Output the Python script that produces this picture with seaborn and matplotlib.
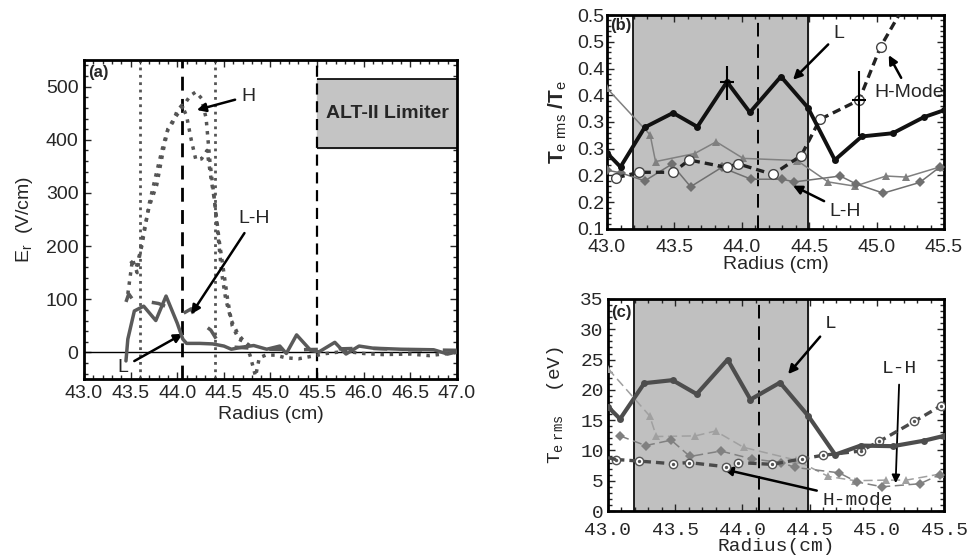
import numpy as np
import matplotlib
matplotlib.use('Agg')
import matplotlib.pyplot as plt
import seaborn as sns

sns.set_style('ticks')
plt.rcParams['font.family'] = ['Liberation Sans', 'DejaVu Sans']
plt.rcParams['mathtext.fontset'] = 'custom'
plt.rcParams['mathtext.rm'] = 'Liberation Sans'
plt.rcParams['mathtext.it'] = 'Liberation Sans'
plt.rcParams['mathtext.tt'] = 'Liberation Mono'

# ---------- panel (a): radial electric field ----------
a_h1_r = [43.47, 43.52, 43.57, 43.62, 43.7, 43.78, 43.85, 43.9, 43.95, 44.0, 44.05, 44.1,
          44.15, 44.2, 44.26, 44.32, 44.36, 44.4, 44.44, 44.48, 44.52, 44.58, 44.65, 44.72, 44.8]
a_h1_er = [110, 175, 150, 210, 275, 315, 380, 420, 432, 455, 465, 445,
           400, 362, 364, 380, 330, 285, 215, 145, 100, 60, 35, 20, 10]
a_h2_r = [43.5, 43.56, 43.62, 43.7, 43.78, 43.85, 43.9, 43.95, 44.05, 44.14, 44.2, 44.26,
          44.31, 44.35, 44.4, 44.45, 44.5, 44.54, 44.59, 44.66, 44.72, 44.78, 44.84, 44.88,
          44.95, 45.05, 45.16, 45.3, 45.48, 45.6, 45.8, 46.0, 46.2, 46.5, 46.7, 46.85, 47.0]
a_h2_er = [172, 160, 200, 280, 340, 390, 420, 435, 460, 483, 490, 478,
           440, 360, 285, 210, 150, 100, 50, 25, 20, -5, -45, -10,
           -5, -5, -10, -12, -6, -2, 2, -2, -4, -3, -6, -3, 0]
a_l_r = [43.45, 43.47, 43.54, 43.64, 43.77, 43.88, 44.0, 44.06, 44.1, 44.24, 44.38, 44.5,
         44.58, 44.7, 44.82, 44.96, 45.1, 45.17, 45.28, 45.43, 45.52, 45.69, 45.81, 45.95,
         46.1, 46.4, 46.75, 46.9, 47.0]
a_l_er = [-16, 25, 78, 87, 60, 106, 55, 25, 17, 17, 16, 12,
          6, 10, 13, 6, 12, -2, 33, 4, 1, 19, -3, 12,
          8, 6, 5, -3, 1]
a_lh_r = [43.45, 43.48, 43.52, 43.6, 43.7, 43.8, 43.9, 44.0, 44.05, 44.15, 44.2, 44.3,
          44.36, 44.42, 44.5, 44.6, 44.8, 45.0, 45.3, 45.6, 46.0, 46.5, 47.0]
a_lh_er = [95, 110, 100, 95, 95, 92, 85, 75, 72, 82, 62, 50,
           42, 25, 15, 10, 8, 6, 5, 6, 8, 5, 4]

# ---------- panel (b): normalised temperature fluctuation ----------
b_l_r = [43.0, 43.1, 43.28, 43.49, 43.67, 43.89, 44.06, 44.29, 44.49, 44.69, 44.89, 45.12, 45.35, 45.5]
b_l_t = [0.242, 0.216, 0.290, 0.317, 0.291, 0.375, 0.318, 0.385, 0.327, 0.229, 0.273, 0.279, 0.309, 0.322]
b_h_r = [43.07, 43.24, 43.49, 43.61, 43.89, 43.97, 44.23, 44.44, 44.58, 44.87, 45.03, 45.2]
b_h_t = [0.196, 0.206, 0.206, 0.229, 0.215, 0.222, 0.202, 0.237, 0.305, 0.341, 0.441, 0.515]
b_tri_r = [43.0, 43.32, 43.36, 43.65, 43.81, 44.01, 44.41, 44.64, 44.84, 45.07, 45.22, 45.47]
b_tri_t = [0.363, 0.276, 0.226, 0.241, 0.263, 0.232, 0.228, 0.188, 0.180, 0.199, 0.197, 0.216]
b_dia_r = [43.0, 43.1, 43.28, 43.48, 43.62, 43.85, 44.07, 44.3, 44.39, 44.73, 44.85, 45.05, 45.32, 45.47]
b_dia_t = [0.210, 0.205, 0.190, 0.221, 0.179, 0.215, 0.193, 0.193, 0.188, 0.199, 0.184, 0.167, 0.187, 0.216]
b_err_r = [43.89, 44.87]
b_err_t = [0.375, 0.341]
b_err_lo = [0.033, 0.068]
b_err_hi = [0.030, 0.055]
b_yticks = [0.1, 0.15, 0.2, 0.25, 0.3, 0.35, 0.4, 0.45, 0.5]
b_ylabels = ['0.1', '0.2', '0.2', '0.3', '0.3', '0.4', '0.4', '0.5', '0.5']

# ---------- panel (c): temperature fluctuation (eV) ----------
c_l_r = [43.0, 43.09, 43.27, 43.48, 43.66, 43.89, 44.06, 44.28, 44.49, 44.69, 44.88, 45.12, 45.35, 45.5]
c_l_t = [17.2, 15.2, 21.1, 21.6, 19.3, 25.0, 18.4, 21.2, 15.7, 9.3, 10.8, 10.7, 11.6, 12.4]
c_h_r = [43.06, 43.23, 43.48, 43.6, 43.88, 43.97, 44.22, 44.44, 44.6, 44.88, 45.02, 45.28, 45.48]
c_h_t = [8.5, 8.25, 7.8, 8.0, 7.3, 8.0, 7.7, 8.6, 9.2, 9.9, 11.5, 14.8, 17.4]
c_tri_r = [43.0, 43.31, 43.36, 43.65, 43.8, 44.01, 44.4, 44.64, 44.84, 45.07, 45.22, 45.47]
c_tri_t = [23.5, 15.7, 12.3, 12.4, 13.2, 10.5, 8.4, 5.7, 5.0, 5.1, 5.1, 6.1]
c_dia_r = [43.09, 43.28, 43.47, 43.61, 43.84, 44.07, 44.29, 44.39, 44.72, 44.85, 45.04, 45.32, 45.47]
c_dia_t = [12.4, 10.8, 11.7, 9.0, 9.9, 8.6, 8.0, 7.2, 6.3, 4.8, 4.0, 4.5, 6.0]


def style_axis(ax, lw=2.0):
    for s in ax.spines.values():
        s.set_linewidth(lw)
        s.set_color('black')
    ax.tick_params(which='both', direction='in', top=True, right=True, width=1)
    ax.tick_params(which='major', length=5)
    ax.tick_params(which='minor', length=3)


fig = plt.figure(figsize=(9.7, 5.6), dpi=100)
ax_a = fig.add_axes([0.0866, 0.3232, 0.3845, 0.5696])
ax_b = fig.add_axes([0.6258, 0.5911, 0.3474, 0.3821])
ax_c = fig.add_axes([0.6268, 0.0875, 0.3464, 0.3786])

arrow = dict(arrowstyle='-|>', color='black', lw=1.8, mutation_scale=13, shrinkA=2, shrinkB=0)

# ----- (a) -----
ax = ax_a
ax.fill_between([45.5, 47.0], 385, 515, color='#c4c4c4', zorder=1)
ax.hlines([385, 515], 45.5, 47.0, color='black', lw=1.2, zorder=2)
ax.text(46.25, 450, 'ALT-II Limiter', ha='center', va='center', fontsize=14, fontweight='bold')
ax.axhline(0, color='black', lw=1, zorder=2)
ax.axvline(43.6, color='#555555', ls=':', lw=2, zorder=2)
ax.axvline(44.4, color='#555555', ls=':', lw=2, zorder=2)
ax.axvline(44.05, color='black', ls=(0, (5, 3)), lw=2, zorder=2)
ax.axvline(45.5, color='black', ls=(0, (5, 3)), lw=1.6, zorder=2)
sns.lineplot(x=a_h1_r, y=a_h1_er, ax=ax, sort=False, estimator=None, color='#555555', lw=2.5, ls=':', zorder=3)
sns.lineplot(x=a_h2_r, y=a_h2_er, ax=ax, sort=False, estimator=None, color='#555555', lw=2.5, ls=':', zorder=3)
sns.lineplot(x=a_lh_r, y=a_lh_er, ax=ax, sort=False, estimator=None, color='#5a5a5a', lw=2.5, ls=(0, (4, 6)), zorder=3)
sns.lineplot(x=a_l_r, y=a_l_er, ax=ax, sort=False, estimator=None, color='#5a5a5a', lw=2.5, zorder=4)
ax.annotate('H', xy=(44.21, 456), xytext=(44.76, 482), fontsize=14, ha='center', va='center', arrowprops=arrow)
ax.annotate('L-H', xy=(44.15, 72), xytext=(44.82, 251), fontsize=14, ha='center', va='center', arrowprops=arrow)
ax.annotate('L', xy=(44.06, 35), xytext=(43.42, -28), fontsize=14, ha='center', va='center', arrowprops=arrow)
ax.text(43.04, 540, '(a)', fontsize=12, fontweight='bold', va='top')
ax.set_xlim(43.0, 47.0)
ax.set_ylim(-50, 550)
ax.set_xticks(np.arange(43.0, 47.01, 0.5))
ax.set_xticklabels([f'{v:.1f}' for v in np.arange(43.0, 47.01, 0.5)])
ax.set_xticks(np.arange(43.0, 47.01, 0.1), minor=True)
ax.set_yticks([0, 100, 200, 300, 400, 500])
ax.set_yticks(np.arange(-40, 550, 20), minor=True)
ax.tick_params(labelsize=14, pad=4)
ax.set_xlabel('Radius (cm)', fontsize=14, labelpad=3)
ax.set_ylabel(r'E$_{\rm r}$  (V/cm)', fontsize=14, labelpad=8)
style_axis(ax)

# ----- (b) -----
ax = ax_b
ax.axvspan(43.19, 44.49, color='#c0c0c0', zorder=0)
ax.axvline(43.19, color='black', lw=1.2, zorder=1)
ax.axvline(44.49, color='black', lw=1.2, zorder=1)
ax.axvline(44.12, color='black', ls=(0, (7, 4)), lw=1.4, zorder=1)
sns.lineplot(x=b_tri_r, y=b_tri_t, ax=ax, sort=False, estimator=None, color='#808080', lw=1.1,
             marker='^', markersize=6, markeredgewidth=0, zorder=3)
sns.lineplot(x=b_dia_r, y=b_dia_t, ax=ax, sort=False, estimator=None, color='#707070', lw=1.1,
             marker='D', markersize=5, markeredgewidth=0, zorder=3)
sns.lineplot(x=b_h_r, y=b_h_t, ax=ax, sort=False, estimator=None, color='#222222', lw=2.4, ls=(0, (2.5, 1.5)),
             marker='o', markersize=7, markerfacecolor='white', markeredgecolor='#444444', markeredgewidth=1, zorder=4)
sns.lineplot(x=b_l_r, y=b_l_t, ax=ax, sort=False, estimator=None, color='#111111', lw=2.8,
             marker='o', markersize=5, markeredgewidth=0, zorder=5)
ax.errorbar(b_err_r, b_err_t, yerr=[b_err_lo, b_err_hi], xerr=0.05, fmt='none', ecolor='black', elinewidth=1.5, zorder=6)
ax.annotate('L', xy=(44.38, 0.379), xytext=(44.72, 0.465), fontsize=14, ha='center', va='center', arrowprops=arrow)
ax.annotate('H-Mode', xy=(45.09, 0.425), xytext=(45.24, 0.356), fontsize=14, ha='center', va='center', arrowprops=arrow)
ax.annotate('L-H', xy=(44.38, 0.181), xytext=(44.77, 0.132), fontsize=14, ha='center', va='center', arrowprops=arrow)
ax.text(43.02, 0.495, '(b)', fontsize=12, fontweight='bold', va='top')
ax.set_xlim(43.0, 45.5)
ax.set_ylim(0.1, 0.5)
ax.set_xticks([43.0, 43.5, 44.0, 44.5, 45.0, 45.5])
ax.set_xticklabels(['43.0', '43.5', '44.0', '44.5', '45.0', '45.5'])
ax.set_xticks(np.arange(43.0, 45.51, 0.1), minor=True)
ax.set_yticks(b_yticks)
ax.set_yticklabels(b_ylabels)
ax.set_yticks(np.arange(0.1, 0.501, 0.01), minor=True)
ax.tick_params(labelsize=14, pad=2)
ax.tick_params(axis='x', pad=7)
ax.set_xlabel('Radius (cm)', fontsize=14, labelpad=0)
ax.set_ylabel(r'T$_{\rm e\ rms}$ /T$_{\rm e}$', fontsize=15, fontweight='bold', labelpad=6)
style_axis(ax)

# ----- (c) -----
mono = ['Liberation Mono', 'DejaVu Sans Mono']
ax = ax_c
ax.axvspan(43.19, 44.49, color='#c0c0c0', zorder=0)
ax.axvline(43.19, color='black', lw=1.2, zorder=1)
ax.axvline(44.49, color='black', lw=1.2, zorder=1)
ax.axvline(44.12, color='black', ls=(0, (7, 4)), lw=1.4, zorder=1)
sns.lineplot(x=c_tri_r, y=c_tri_t, ax=ax, sort=False, estimator=None, color='#a0a0a0', lw=1.1, ls=(0, (6, 3)),
             marker='^', markersize=6, markeredgewidth=0, zorder=3)
sns.lineplot(x=c_dia_r, y=c_dia_t, ax=ax, sort=False, estimator=None, color='#808080', lw=1.1, ls=(0, (6, 3)),
             marker='D', markersize=5, markeredgewidth=0, zorder=3)
sns.lineplot(x=c_h_r, y=c_h_t, ax=ax, sort=False, estimator=None, color='#4a4a4a', lw=2.4, ls=(0, (2.5, 1.5)),
             marker='o', markersize=6, markerfacecolor='white', markeredgecolor='#555555', markeredgewidth=1, zorder=4)
ax.plot([43.0, c_h_r[0]], [8.8, c_h_t[0]], color='#4a4a4a', lw=2.4, ls=(0, (2.5, 1.5)), zorder=4)
ax.scatter(c_h_r, c_h_t, s=2, color='#555555', zorder=5)
sns.lineplot(x=c_l_r, y=c_l_t, ax=ax, sort=False, estimator=None, color='#4d4d4d', lw=3.0,
             marker='o', markersize=5, markeredgewidth=0, zorder=5)
ax.annotate('L', xy=(44.34, 22.6), xytext=(44.66, 30.9), fontsize=14, ha='center', va='center',
            family=mono, arrowprops=arrow)
ax.annotate('L-H', xy=(45.14, 4.6), xytext=(45.17, 23.5), fontsize=14, ha='center', va='center',
            family=mono, arrowprops=dict(arrowstyle='-|>', color='black', lw=1.3, mutation_scale=12,
                                          shrinkA=3, shrinkB=0))
ax.annotate('H-mode', xy=(43.86, 6.9), xytext=(44.86, 1.8), fontsize=14, ha='center', va='center',
            family=mono, arrowprops=arrow)
ax.text(43.02, 34.0, '(c)', fontsize=12, fontweight='bold', va='top')
ax.set_xlim(43.0, 45.5)
ax.set_ylim(0, 35)
ax.set_xticks([43.0, 43.5, 44.0, 44.5, 45.0, 45.5])
ax.set_xticklabels(['43.0', '43.5', '44.0', '44.5', '45.0', '45.5'], family=mono)
ax.set_xticks(np.arange(43.0, 45.51, 0.1), minor=True)
ax.set_yticks(np.arange(0, 35.1, 5))
ax.set_yticklabels([str(v) for v in range(0, 36, 5)], family=mono)
ax.set_yticks(np.arange(0, 35.1, 1), minor=True)
ax.tick_params(labelsize=14, pad=3)
ax.tick_params(axis='x', pad=8)
ax.set_xlabel('Radius(cm)', fontsize=14, family=mono, labelpad=-1)
ax.set_ylabel(r'T$_{\tt e\ rms}$  (eV)', fontsize=14, family=mono, labelpad=10)
style_axis(ax)

fig.savefig('out.png', dpi=100)
